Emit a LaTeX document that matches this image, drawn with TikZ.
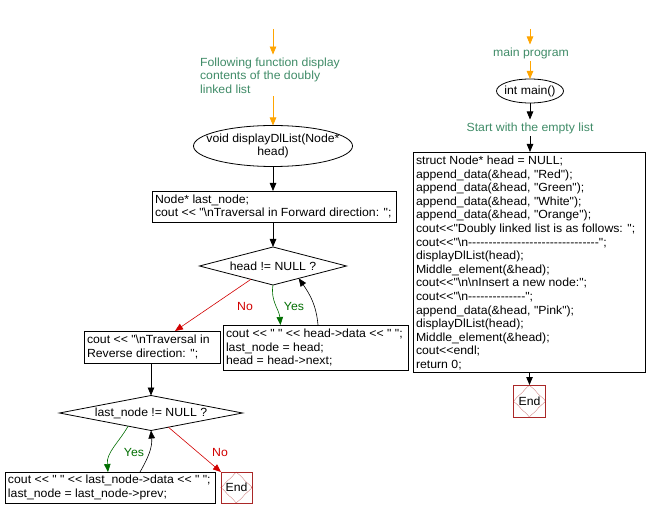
\documentclass[tikz,border=0pt]{standalone}
\usepackage{fontspec}
\setmainfont{Liberation Sans}[Ligatures=TeXOff, FakeStretch=1.04]
\usetikzlibrary{arrows.meta,shapes.geometric,calc}
\definecolor{cmt}{RGB}{64,140,104}
\definecolor{yesc}{RGB}{0,110,0}
\definecolor{noc}{RGB}{210,0,0}
\definecolor{endc}{RGB}{170,40,40}
\definecolor{orng}{RGB}{255,165,0}
\begin{document}
\begin{tikzpicture}[x=1pt,y=-1pt,
  font=\fontsize{11.8}{13.6}\selectfont,
  every node/.style={inner sep=0pt, outer sep=0pt},
  box/.style={draw, line width=0.8pt},
  code/.style={anchor=west, align=left},
  ell/.style={draw, ellipse, line width=0.8pt},
  diam/.style={draw, diamond, line width=0.8pt},
  endbox/.style={draw=endc, line width=0.8pt, minimum width=31pt, minimum height=31pt},
  comment/.style={text=cmt, align=left, inner sep=3pt},
  flow/.style={line width=0.8pt, -{Triangle[length=8pt,width=6.5pt]}},
  oflow/.style={orng, line width=0.8pt, -{Triangle[length=8pt,width=6.5pt]}},
  yesl/.style={yesc, line width=0.6pt, -{Triangle[length=8pt,width=6.5pt]}},
  nol/.style={noc, line width=0.6pt, -{Triangle[length=8pt,width=6.5pt]}},
  back/.style={line width=0.6pt, -{Triangle[length=8pt,width=6.5pt]}}
]
\useasboundingbox (0,0) rectangle (647,518);
\fill[white] (0,0) rectangle (647,518);

% ---------- left flow ----------
\coordinate (ltop) at (273,29);
\node[comment] (c1) at (270,75.5) {Following function display\\contents of the doubly\\linked list};
\node[ell, minimum width=159pt, minimum height=41pt] (e1) at (273,146) {};
\node[align=center] at (e1) {void displayDlList(Node*\\head)};
\node[box, minimum width=244pt, minimum height=31pt] (b1) at (274,206.5) {};
\node[code] at ($(b1.west)+(3,0)$) {Node* last\_node;\\cout << "\textbackslash nTraversal in Forward direction: ";};
\node[diam, minimum width=147pt, minimum height=38pt] (d1) at (273,266) {};
\node at (d1) {head != NULL ?};
\node[box, minimum width=185pt, minimum height=45pt] (b2) at (315.5,347.5) {};
\node[code] at ($(b2.west)+(3,0)$) {cout << " " << head->data << " ";\\last\_node = head;\\head = head->next;};
\node[box, minimum width=136pt, minimum height=32pt] (b3) at (152,347) {};
\node[code] at ($(b3.west)+(3,0)$) {cout << "\textbackslash nTraversal in\\Reverse direction: ";};
\node[diam, minimum width=183pt, minimum height=35pt] (d2) at (151,413) {};
\node at (d2) {last\_node != NULL ?};
\node[box, minimum width=210pt, minimum height=31pt] (b4) at (110,487.5) {};
\node[code] at ($(b4.west)+(3,0)$) {cout << " " << last\_node->data << " ";\\last\_node = last\_node->prev;};
\node[endbox] (end1) at (236.5,487.5) {};
\draw[endc, densely dotted, line width=0.6pt] (end1.north) -- (end1.east) -- (end1.south) -- (end1.west) -- cycle;
\node at (end1) {End};

\draw[oflow] (ltop) -- (ltop |- c1.north);
\draw[oflow] (ltop |- c1.south) -- (e1.north);
\draw[flow] (e1.south) -- (e1.south |- b1.north);
\draw[flow] (b1.south -| d1.north) -- (d1.north);
\draw[nol] ($(d1.south)!0.3!(d1.west)$) -- ($(b3.north)+(23,0)$);
\node[text=noc] at (245,306) {No};
\draw[yesl] (d1.south) to[out=-100,in=95] ($(b2.north)+(-35,0)$);
\node[text=yesc] at (294,306) {Yes};
\draw[back] ($(b2.north)+(2.5,0)$) to[out=95,in=-55] ($(d1.south)!0.35!(d1.east)$);
\draw[flow] (b3.south -| d2.north) -- (d2.north);
\draw[yesl] ($(d2.south)!0.25!(d2.west)$) to[out=-120,in=95] ($(b4.north)+(-2,0)$);
\node[text=yesc] at (134,452) {Yes};
\draw[back] ($(b4.north)+(30,0)$) to[out=60,in=-85] (d2.south);
\draw[nol] ($(d2.south)!0.19!(d2.east)$) -- (end1.north west);
\node[text=noc] at (220,452) {No};

% ---------- right flow ----------
\coordinate (rtop) at (530,29);
\node[text=cmt, inner sep=3pt] (t1) at (531,53) {main program};
\node[ell, minimum width=67pt, minimum height=24pt] (e2) at (530,91) {};
\node at (e2) {int main()};
\node[text=cmt, inner sep=3pt] (t2) at (530,128) {Start with the empty list};
\node[box, minimum width=232pt, minimum height=220pt] (b5) at (529,262) {};
\node[code] at ($(b5.west)+(3,1)$)
  {struct Node* head = NULL;\\
   append\_data(\&head, "Red");\\
   append\_data(\&head, "Green");\\
   append\_data(\&head, "White");\\
   append\_data(\&head, "Orange");\\
   cout<<"Doubly linked list is as follows: ";\\
   cout<<"\textbackslash n--------------------------------";\\
   displayDlList(head);\\
   Middle\_element(\&head);\\
   cout<<"\textbackslash n\textbackslash nInsert a new node:";\\
   cout<<"\textbackslash n--------------";\\
   append\_data(\&head, "Pink");\\
   displayDlList(head);\\
   Middle\_element(\&head);\\
   cout<<endl;\\
   return 0;};
\node[endbox, minimum width=32pt, minimum height=32pt] (end2) at (529.5,401) {};
\draw[endc, densely dotted, line width=0.6pt] (end2.north) -- (end2.east) -- (end2.south) -- (end2.west) -- cycle;
\node at (end2) {End};

\draw[oflow] (rtop) -- (rtop |- t1.north);
\draw[oflow] (rtop |- t1.south) -- (e2.north);
\draw[flow] (e2.south) -- (e2.south |- t2.north);
\draw[flow] (e2.south |- t2.south) -- (e2.south |- b5.north);
\draw[flow] (b5.south -| end2.north) -- (end2.north);
\end{tikzpicture}
\end{document}
